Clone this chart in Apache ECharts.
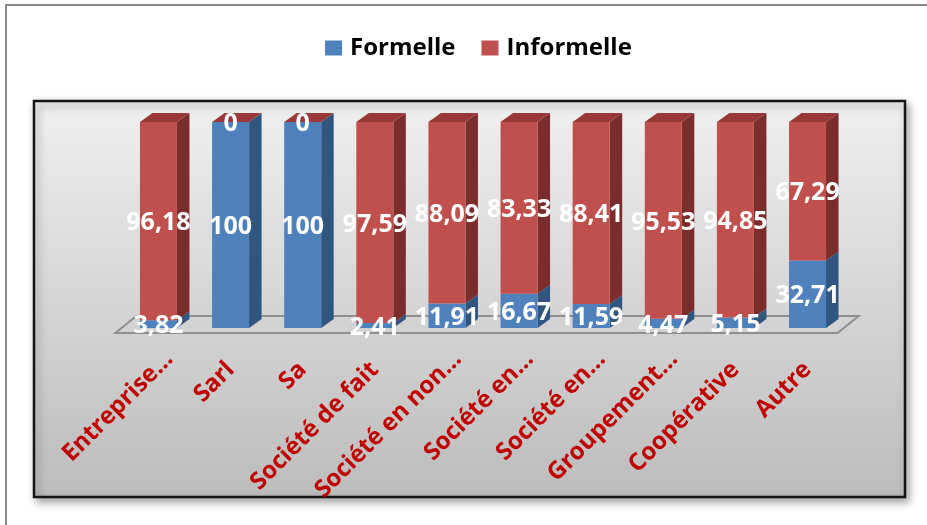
<!DOCTYPE html>
<html>
<head>
<meta charset="utf-8">
<script src="https://cdn.jsdelivr.net/npm/echarts@6/dist/echarts.min.js"></script>
<style>
  html, body { margin: 0; padding: 0; background: #ffffff; }
  #chart { width: 927px; height: 525px; }
</style>
</head>
<body>
<div id="chart"></div>
<script>
// Forme juridique des entreprises : part formelle / informelle (%)
const categories = ['Entreprise…', 'Sarl', 'Sa', 'Société de fait', 'Société en non…',
  'Société en…', 'Société en…', 'Groupement…', 'Coopérative', 'Autre'];
const formelle = [3.82, 100, 100, 2.41, 11.91, 16.67, 11.59, 4.47, 5.15, 32.71];
const informelle = [96.18, 0, 0, 97.59, 88.09, 83.33, 88.41, 95.53, 94.85, 67.29];

const FONT = '"Open Sans", "Liberation Sans", sans-serif';
const DEPTH_X = 12.5, DEPTH_Y = -9;   // 3D extrusion of each column
const BAR_RATIO = 0.513;              // front face width / band width

const palette = {
  Formelle:   { front: '#4f81bd', side: '#30557f', top: null },
  Informelle: { front: '#c0504d', side: '#7a2d2b', top: '#973936' }
};

function fmt(v) { return String(v).replace('.', ','); }

// stacked segments: [category index, start, end, value]
const formelleData = formelle.map((v, i) => [i, 0, v, v]);
const informelleData = informelle.map((v, i) => [i, formelle[i], formelle[i] + v, v]);

function column3D(name) {
  const c = palette[name];
  return function (params, api) {
    const i = api.value(0);
    const pb = api.coord([i, api.value(1)]);
    const pt = api.coord([i, api.value(2)]);
    const w = api.size([1, 0])[0] * BAR_RATIO;
    const x0 = pb[0] - w / 2, x1 = pb[0] + w / 2;
    const yb = pb[1], yt = pt[1];
    const children = [
      { type: 'polygon', shape: { points: [[x1, yb], [x1 + DEPTH_X, yb + DEPTH_Y], [x1 + DEPTH_X, yt + DEPTH_Y], [x1, yt]] },
        style: { fill: c.side }, z2: 1 },
      { type: 'rect', shape: { x: x0, y: yt, width: w, height: yb - yt },
        style: { fill: c.front }, z2: 2 }
    ];
    // only the upper segment of a stack shows its lid
    if (c.top) {
      children.push({ type: 'polygon',
        shape: { points: [[x0, yt], [x0 + DEPTH_X, yt + DEPTH_Y], [x1 + DEPTH_X, yt + DEPTH_Y], [x1, yt]] },
        style: { fill: c.top }, z2: 3 });
    }
    children.push({ type: 'text', x: pb[0], y: (yb + yt) / 2 + 2, z2: 100,
      style: { text: fmt(api.value(3)), fill: '#ffffff', font: 'bold 25px ' + FONT,
               align: 'center', verticalAlign: 'middle' } });
    return { type: 'group', children: children };
  };
}

// floor of the 3D plot, spanning the whole category axis
function floorItem(params, api) {
  const n = categories.length;
  const band = api.size([1, 0])[0];
  const p0 = api.coord([0, 0]);
  const p1 = api.coord([n - 1, 0]);
  const xl = p0[0] - band / 2 - 7, xr = p1[0] + band / 2 - 6;
  const yf = p0[1] + 5, dx = 21, dy = -17;
  return {
    type: 'polygon',
    shape: { points: [[xl, yf], [xr, yf], [xr + dx, yf + dy], [xl + dx, yf + dy]] },
    style: { fill: 'rgba(0,0,0,0)', stroke: '#8f8f8f', lineWidth: 2 },
    z2: 0
  };
}

// truncated category names sit a little higher along the axis
const axisCategories = categories.map(name => name.endsWith('…')
  ? { value: name, textStyle: { padding: [0, -15, 24, 0] } }
  : name);

const chart = echarts.init(document.getElementById('chart'), null, { renderer: 'canvas' });
chart.setOption({
  animation: false,
  backgroundColor: '#ffffff',
  graphic: [
    { type: 'rect', left: 5, top: 4, shape: { x: 0, y: 0, width: 1000, height: 600 },
      style: { fill: '#ffffff', stroke: '#8a8a8a', lineWidth: 2 }, z: -10, silent: true },
    { type: 'rect', shape: { x: 34, y: 101, width: 871, height: 396 },
      style: {
        fill: new echarts.graphic.LinearGradient(0, 0, 0, 1, [
          { offset: 0, color: '#f0f0f0' }, { offset: 1, color: '#bcbcbc' }
        ]),
        stroke: '#151515', lineWidth: 2.5,
        shadowBlur: 8, shadowOffsetX: 3, shadowOffsetY: 4, shadowColor: 'rgba(0,0,0,0.35)'
      }, z: -5, silent: true }
  ],
  legend: {
    data: ['Formelle', 'Informelle'],
    left: 320, top: 31,
    icon: 'rect', itemWidth: 17, itemHeight: 15, itemGap: 26,
    textStyle: { fontFamily: FONT, fontWeight: 'bold', fontSize: 24, color: '#000000', padding: [0, 0, 0, 3] }
  },
  grid: { left: 122.4, right: 83.4, top: 122, bottom: 197 },
  xAxis: {
    type: 'category',
    data: axisCategories,
    axisLine: { show: false },
    axisTick: { show: false },
    splitLine: { show: false },
    axisLabel: {
      interval: 0, rotate: 45, margin: 38,
      color: '#c00000', fontFamily: FONT, fontWeight: 'bold', fontSize: 24
    }
  },
  yAxis: { type: 'value', min: 0, max: 100, show: false, splitLine: { show: false } },
  series: [
    { type: 'custom', name: 'floor', data: [[0]], renderItem: floorItem, silent: true, clip: false, z: 1 },
    { type: 'custom', name: 'Formelle', data: formelleData, renderItem: column3D('Formelle'),
      encode: { x: 0, y: [1, 2] }, itemStyle: { color: palette.Formelle.front }, clip: false, z: 2 },
    { type: 'custom', name: 'Informelle', data: informelleData, renderItem: column3D('Informelle'),
      encode: { x: 0, y: [1, 2] }, itemStyle: { color: palette.Informelle.front }, clip: false, z: 2 }
  ]
});
</script>
</body>
</html>
